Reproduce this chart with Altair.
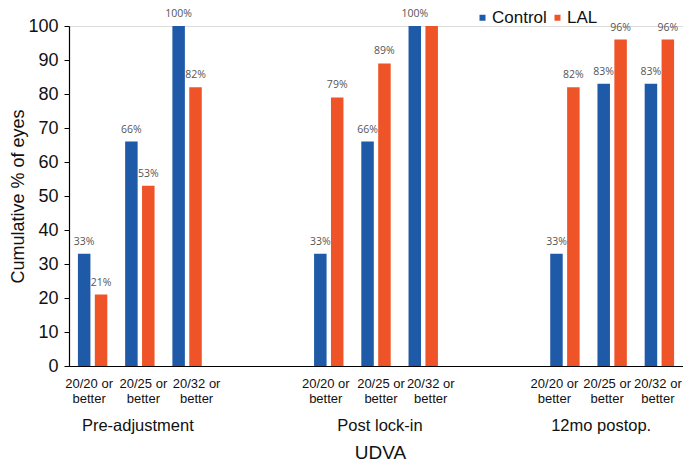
import altair as alt
import pandas as pd

groups = ["Pre-adjustment", "Post lock-in", "12mo postop."]
categories = ["20/20 or better", "20/25 or better", "20/32 or better"]
series = ["Control", "LAL"]
control = [33, 66, 100, 33, 66, 100, 33, 83, 83]
lal = [21, 53, 82, 79, 89, 100, 82, 96, 96]
control_labels = ["33%", "66%", "100%", "33%", "66%", "100%", "33%", "83%", "83%"]
lal_labels = ["21%", "53%", "82%", "79%", "89%", "", "82%", "96%", "96%"]

# slot domain (with empty gap slots between the groups)
slots = []
for gi, g in enumerate(groups):
    for c in categories:
        slots.append(f"{c}|{g}")
    if gi < len(groups) - 1:
        slots.append(f"gap{gi}a")
        slots.append(f"gap{gi}b")

rows = []
k = 0
for g in groups:
    for c in categories:
        rows.append({"slot": f"{c}|{g}", "series": "Control", "value": control[k], "label": control_labels[k]})
        rows.append({"slot": f"{c}|{g}", "series": "LAL", "value": lal[k], "label": lal_labels[k]})
        k += 1
df = pd.DataFrame(rows)

FONT = "Liberation Sans"
W, H = 614, 340

x_axis = alt.Axis(
    title="UDVA",
    labels=False,
    ticks=False,
    domainColor="#000000",
    domainWidth=1.2,
    titleFont=FONT,
    titleFontSize=19,
    titleFontWeight="normal",
    titleColor="#111111",
    titleX=311,
    titleY=92,
    titleBaseline="alphabetic",
)
x_scale = alt.Scale(domain=slots, paddingInner=0, paddingOuter=0)
x_enc = alt.X("slot:N", scale=x_scale, sort=slots, axis=x_axis)
xoff = alt.XOffset(
    "series:N",
    scale=alt.Scale(domain=series, paddingInner=0.265, paddingOuter=0.53),
)
y_axis = alt.Axis(
    title="Cumulative % of eyes",
    values=list(range(0, 101, 10)),
    tickCount=11,
    grid=False,
    tickSize=5,
    tickColor="#000000",
    domainColor="#000000",
    domainWidth=1.2,
    labelFont=FONT,
    labelFontSize=18,
    labelColor="#111111",
    labelPadding=6,
    labelOverlap=False,
    titleFont=FONT,
    titleFontSize=18,
    titleFontWeight="normal",
    titleColor="#111111",
    titlePadding=0,
)
y_scale = alt.Scale(domain=[0, 100], nice=False)
y_enc = alt.Y("value:Q", scale=y_scale, axis=y_axis)
color_enc = alt.Color(
    "series:N",
    scale=alt.Scale(domain=series, range=["#1F5AA8", "#EE5427"]),
    legend=alt.Legend(
        title=None,
        orient="none",
        direction="horizontal",
        legendX=405,
        legendY=-17,
        padding=0,
        symbolType="square",
        symbolSize=36,
        symbolStrokeWidth=0,
        labelFont=FONT,
        labelFontSize=17,
        labelColor="#111111",
        labelOffset=1,
        columnPadding=2,
    ),
)

bars = alt.Chart(df).mark_bar(size=12.5).encode(
    x=x_enc, xOffset=xoff, y=y_enc, color=color_enc
)
texts = alt.Chart(df).mark_text(
    baseline="alphabetic", dy=-9, font="Open Sans", fontSize=10.5, color="#555555"
).encode(x=x_enc, xOffset=xoff, y=y_enc, text="label:N")

layers = [bars, texts]

# category tick labels (two lines each), nudged like the reference
cat_dx = {
    "Pre-adjustment": [-3.5, 3.5, 9.5],
    "Post lock-in": [-3, 5, 7.5],
    "12mo postop.": [-10.5, -5, -1.5],
}
for g in groups:
    for ci, c in enumerate(categories):
        cdf = pd.DataFrame({"slot": [f"{c}|{g}"], "text": [c.replace(" or ", " or\n")]})
        layers.append(
            alt.Chart(cdf).mark_text(
                font=FONT, fontSize=13, color="#111111", baseline="top",
                lineBreak="\n", lineHeight=15, dx=cat_dx[g][ci],
            ).encode(x=x_enc, y=alt.value(H + 11.5), text="text:N")
        )

group_dx = {"Pre-adjustment": -2, "Post lock-in": 4, "12mo postop.": -11}
for g in groups:
    gdf = pd.DataFrame({"slot": [f"{categories[1]}|{g}"], "group": [g]})
    layers.append(
        alt.Chart(gdf).mark_text(
            font=FONT, fontSize=16.5, color="#111111", baseline="alphabetic", dx=group_dx[g]
        ).encode(x=x_enc, y=alt.value(H + 65), text="group:N")
    )

chart = alt.layer(*layers).properties(
    width=W,
    height=H,
    padding={"left": 61, "top": 18, "right": 0, "bottom": 96},
    autosize=alt.AutoSizeParams(type="none"),
).configure_view(stroke=None).configure(background="white")

chart.save("out.html", embed_options={"renderer": "svg", "actions": False})
